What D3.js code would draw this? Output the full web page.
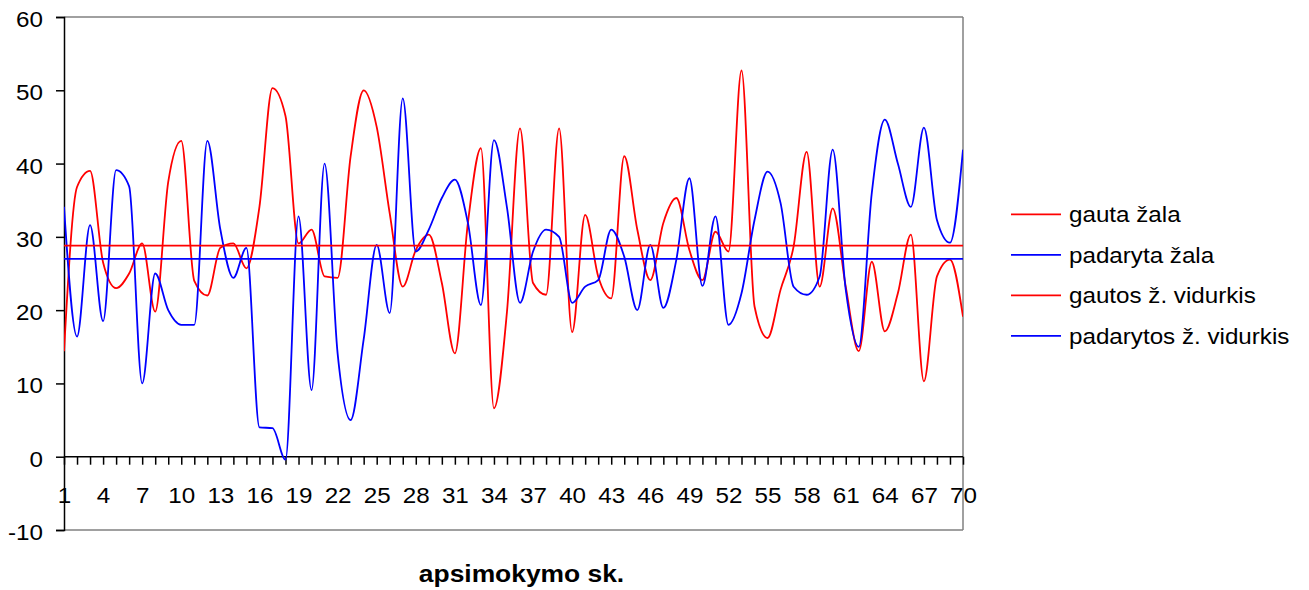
<!DOCTYPE html>
<html><head><meta charset="utf-8">
<script src="https://cdn.jsdelivr.net/npm/d3@7"></script>
<style>body{margin:0;background:#fff}svg{display:block}</style>
</head><body>
<svg id="c" width="1309" height="590"></svg>
<script>
const categories = d3.range(1, 71);
const xTickLabels = [1,4,7,10,13,16,19,22,25,28,31,34,37,40,43,46,49,52,55,58,61,64,67,70];
const yTicks = [-10,0,10,20,30,40,50,60];
const gautaZala = [14.4,36.8,39.0,26.5,23.0,25.0,29.1,19.8,37.5,43.1,24.0,22.0,28.5,29.1,25.7,34.1,50.3,46.5,
  29.1,31.0,24.6,24.4,41.0,50.0,45.0,33.2,23.2,28.2,30.3,23.7,14.1,31.9,42.1,6.6,19.8,44.8,23.7,22.1,44.8,17.0,
  33.0,24.6,21.6,41.0,31.0,24.1,31.9,35.3,28.2,24.1,30.7,28.0,52.7,20.5,16.2,22.8,28.7,41.6,23.2,33.9,
  23.2,14.4,26.6,17.1,22.3,30.3,10.3,24.6,26.9,19.1];
const padarytaZala = [34.1,16.4,31.6,18.5,39.1,36.9,10.0,25.0,20.0,18.0,18.0,43.1,31.0,24.4,28.5,4.0,3.9,-0.4,
  32.8,9.1,40.0,14.1,5.0,16.0,28.9,19.6,48.9,28.0,31.0,35.3,37.8,31.9,20.7,43.2,34.0,21.0,28.0,31.0,30.0,21.0,
  23.2,24.1,31.0,27.3,20.0,28.9,20.3,26.9,38.0,23.3,32.8,18.0,22.3,32.3,38.9,34.6,23.2,22.1,24.6,41.9,
  22.8,15.0,36.0,46.0,40.0,34.1,44.9,32.3,29.2,41.9];
const gautosVidurkis = 28.8;
const padarytosVidurkis = 27.0;
const legendNames = ["gauta žala","padaryta žala","gautos ž. vidurkis","padarytos ž. vidurkis"];
const legendColors = ["#ff0000","#0000ff","#ff0000","#0000ff"];

const svg = d3.select("#c");
const L = 64, R = 963, T = 17, B = 530;
const x = d3.scaleLinear().domain([1, 70]).range([L, R]);
const y = d3.scaleLinear().domain([-10, 60]).range([B, T]);
const font = "Arial, 'Liberation Sans', sans-serif";
const SX = 1.1;

// plot border (gray top/right/bottom)
svg.append("line").attr("x1",L).attr("x2",R).attr("y1",T).attr("y2",T).attr("stroke","#808080").attr("stroke-width",1.5);
svg.append("line").attr("x1",R).attr("x2",R).attr("y1",T).attr("y2",B).attr("stroke","#808080").attr("stroke-width",1.5);
svg.append("line").attr("x1",L).attr("x2",R).attr("y1",B).attr("y2",B).attr("stroke","#808080").attr("stroke-width",1.5);

// y axis
const yAxis = d3.axisLeft(y).tickValues(yTicks).tickSize(8).tickFormat(d => String(d));
const gy = svg.append("g").attr("transform",`translate(${L},0)`).call(yAxis);
gy.select(".domain").attr("stroke","#000").attr("stroke-width",1.5);
gy.selectAll(".tick line").attr("stroke","#000").attr("stroke-width",1.5);
gy.selectAll("text").attr("x",0).attr("dy",null).attr("transform","translate(-21,9.5) scale(" + SX + ",1)")
  .attr("font-family",font).attr("font-size",22).attr("fill","#000");

// x axis at y=0
const xAxis = d3.axisBottom(x).tickValues(categories).tickSize(8)
  .tickFormat(d => xTickLabels.includes(d) ? String(d) : "");
const gx = svg.append("g").attr("transform",`translate(0,${y(0)})`).call(xAxis);
gx.select(".domain").attr("stroke","#000").attr("stroke-width",1.5).attr("d",`M${L},0H${R}`);
gx.selectAll(".tick line").attr("stroke","#000").attr("stroke-width",1.5);
gx.selectAll("text").attr("y",0).attr("dy",null).attr("transform","translate(0,46) scale(" + SX + ",1)")
  .attr("font-family",font).attr("font-size",22).attr("fill","#000");

const line = d3.line().x((d,i)=>x(categories[i])).y(d=>y(d)).curve(d3.curveMonotoneX);
svg.append("clipPath").attr("id","pc").append("rect").attr("x",L).attr("y",T-5).attr("width",R-L).attr("height",B-T+5);
const plot = svg.append("g").attr("clip-path","url(#pc)");
plot.append("path").datum(gautaZala).attr("d",line).attr("fill","none").attr("stroke","#ff0000").attr("stroke-width",1.8);
plot.append("path").datum(padarytaZala).attr("d",line).attr("fill","none").attr("stroke","#0000ff").attr("stroke-width",1.8);
plot.append("line").attr("x1",x(1)).attr("x2",x(70)).attr("y1",y(gautosVidurkis)).attr("y2",y(gautosVidurkis)).attr("stroke","#ff0000").attr("stroke-width",1.8);
plot.append("line").attr("x1",x(1)).attr("x2",x(70)).attr("y1",y(padarytosVidurkis)).attr("y2",y(padarytosVidurkis)).attr("stroke","#0000ff").attr("stroke-width",1.8);

// legend
const lg = svg.append("g");
legendNames.forEach((n,i)=>{
  const yy = 214.3 + i*40.5;
  lg.append("line").attr("x1",1011).attr("x2",1061).attr("y1",yy).attr("y2",yy).attr("stroke",legendColors[i]).attr("stroke-width",1.8);
  lg.append("text").attr("transform",`translate(1069,${yy+8}) scale(${SX},1)`)
    .attr("font-family",font).attr("font-size",22).attr("fill","#000").text(n);
});

// x title
svg.append("text").attr("transform",`translate(521.5,582) scale(${SX},1)`).attr("text-anchor","middle").attr("font-family",font)
  .attr("font-size",24).attr("font-weight","bold").text("apsimokymo sk.");
</script>
</body></html>
